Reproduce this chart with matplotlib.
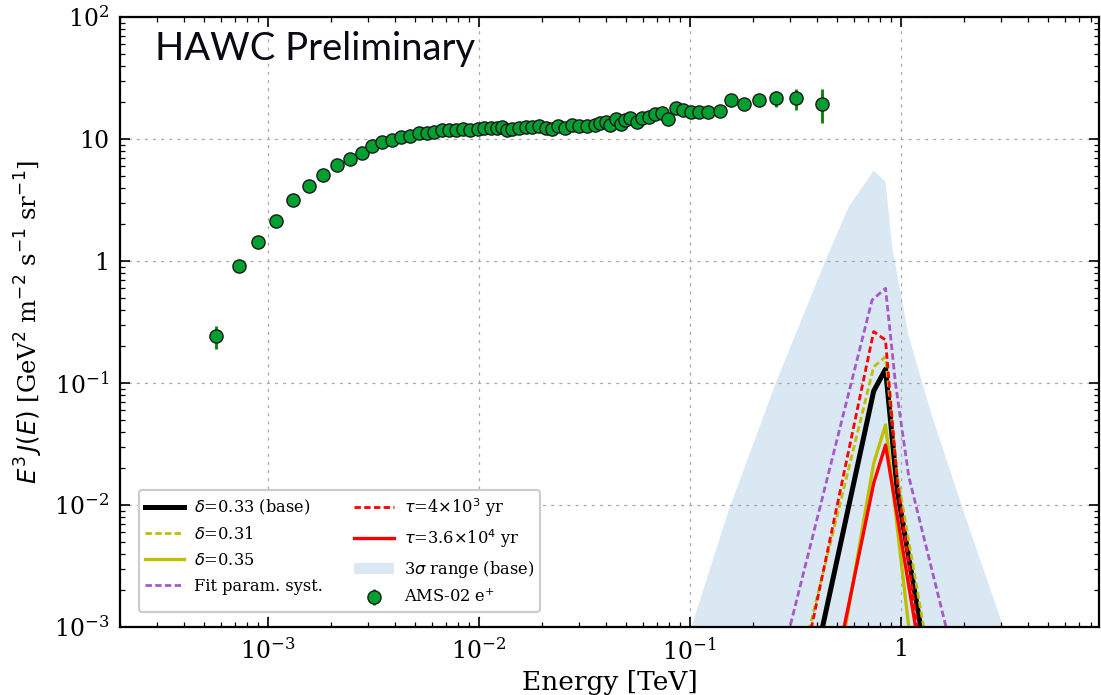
import numpy as np
import matplotlib
matplotlib.use("Agg")
import matplotlib.pyplot as plt

plt.rcParams['font.family'] = 'DejaVu Serif'
plt.rcParams['mathtext.fontset'] = 'dejavusans'

# AMS-02 positron points, E in TeV, E^3 J(E) in GeV^2 m^-2 s^-1 sr^-1
ams_E = [5.69e-4, 7.31e-4, 9.03e-4, 1.10e-3, 1.32e-3, 1.57e-3, 1.83e-3, 2.14e-3,
         2.45e-3, 2.80e-3, 3.13e-3, 3.49e-3, 3.87e-3, 4.27e-3, 4.71e-3, 5.20e-3,
         5.69e-3, 6.18e-3, 6.70e-3, 7.23e-3, 7.83e-3, 8.45e-3, 9.16e-3, 9.89e-3,
         1.06e-2, 1.14e-2, 1.22e-2, 1.29e-2, 1.37e-2, 1.44e-2, 1.55e-2, 1.67e-2,
         1.80e-2, 1.93e-2, 2.08e-2, 2.22e-2, 2.38e-2, 2.58e-2, 2.78e-2, 2.99e-2,
         3.27e-2, 3.58e-2, 3.78e-2, 4.00e-2, 4.22e-2, 4.46e-2, 4.71e-2, 4.97e-2,
         5.25e-2, 5.64e-2, 5.96e-2, 6.41e-2, 6.85e-2, 7.37e-2, 7.92e-2, 8.59e-2,
         9.30e-2, 0.102, 0.111, 0.122, 0.139, 0.157, 0.181, 0.213, 0.258, 0.321, 0.423]
ams_F = [0.243, 0.910, 1.44, 2.13, 3.16, 4.14, 5.03, 6.12,
         6.90, 7.68, 8.81, 9.40, 9.87, 10.3, 10.6, 11.1,
         11.3, 11.5, 11.8, 11.8, 11.9, 12.0, 11.9, 12.1,
         12.2, 12.2, 12.4, 12.6, 11.9, 12.0, 12.4, 12.5,
         12.6, 12.8, 12.4, 12.1, 12.8, 12.2, 13.0, 12.8,
         12.8, 13.0, 13.5, 13.7, 13.0, 14.6, 13.4, 14.3,
         14.8, 13.9, 14.8, 15.1, 16.0, 16.3, 14.7, 18.1,
         17.3, 16.8, 16.6, 16.8, 17.1, 20.9, 19.5, 20.9, 21.6, 21.6, 19.5]
ams_err = [0.052, 0.03, 0.04, 0.05, 0.06, 0.07, 0.08, 0.09,
           0.1, 0.1, 0.1, 0.1, 0.1, 0.1, 0.1, 0.1,
           0.1, 0.1, 0.1, 0.1, 0.1, 0.1, 0.1, 0.1,
           0.1, 0.1, 0.1, 0.1, 0.1, 0.1, 0.1, 0.1,
           0.1, 0.1, 0.1, 0.1, 0.2, 0.2, 0.2, 0.2,
           0.2, 0.2, 0.3, 0.3, 0.3, 0.3, 0.3, 0.3,
           0.3, 0.3, 0.4, 0.4, 0.4, 0.5, 0.5, 0.5,
           0.6, 0.6, 0.7, 0.8, 0.9, 1.1, 1.3, 1.7, 3.3, 4.3, 6.0]

# 3 sigma band (upper edge; lower edge sits below the plotted range)
band_E = [0.0891, 0.1028, 0.1535, 0.256, 0.442, 0.569, 0.746, 0.849,
          0.912, 0.982, 1.094, 1.413, 2.03, 3.03, 3.31]
band_hi = [5.0e-4, 1.04e-3, 9.1e-3, 0.0995, 1.02, 2.79, 5.50, 4.47,
           1.31, 0.656, 0.240, 0.053, 8.0e-3, 1.07e-3, 6.3e-4]
band_lo = [1e-5] * len(band_E)

# model spectra
base_E = [0.355, 0.746, 0.849, 0.964, 1.35]
base_F = [2.3e-4, 0.086, 0.130, 0.0133, 4.5e-4]
d31_E = [0.316, 0.746, 0.849, 0.964, 1.38]
d31_F = [3.2e-4, 0.136, 0.164, 0.0178, 5.0e-4]
d35_E = [0.501, 0.746, 0.849, 1.148]
d35_F = [4.1e-4, 0.022, 0.0453, 4.8e-4]
fit_E = [0.251, 0.733, 0.849, 0.946, 1.094, 1.82]
fit_F = [3.0e-4, 0.479, 0.597, 0.0995, 0.0171, 4.9e-4]
t4e3_E = [0.331, 0.746, 0.849, 0.964, 1.29]
t4e3_F = [3.3e-4, 0.264, 0.225, 0.0158, 4.1e-4]
t36e3_E = [0.490, 0.746, 0.849, 1.259]
t36e3_F = [4.4e-4, 0.0151, 0.031, 5.0e-4]

dash = (0, (2.3, 1.2))

fig = plt.figure(figsize=(11.01, 6.95), dpi=100)
ax = fig.add_axes([0.109, 0.0978, 0.889, 0.8777])

h_band = ax.fill_between(band_E, band_lo, band_hi, color='#1f77b4', alpha=0.17,
                         lw=0, label=r'3$\sigma$ range (base)')
h_base, = ax.plot(base_E, base_F, color='k', lw=3.6, label=r'$\delta$=0.33 (base)')
h_d31, = ax.plot(d31_E, d31_F, color='#bcc000', lw=2, ls=dash, label=r'$\delta$=0.31')
h_d35, = ax.plot(d35_E, d35_F, color='#bcc000', lw=2.4, label=r'$\delta$=0.35')
h_fit, = ax.plot(fit_E, fit_F, color='#a65ac8', lw=2, ls=dash, label='Fit param. syst.')
h_t1, = ax.plot(t4e3_E, t4e3_F, color='r', lw=2, ls=dash,
                label=r'$\tau$=4$\times$10$^3$ yr')
h_t2, = ax.plot(t36e3_E, t36e3_F, color='r', lw=2.4,
                label=r'$\tau$=3.6$\times$10$^4$ yr')
h_ams = ax.errorbar(ams_E, ams_F, yerr=ams_err, fmt='o', ms=9.5, mfc='#00a030',
                    mec='#1a1a1a', mew=1.0, ecolor='#008000', elinewidth=2,
                    label=r'AMS-02 e$^{+}$', zorder=5)

ax.set_xscale('log')
ax.set_yscale('log')
ax.set_xlim(2e-4, 8.7)
ax.set_ylim(1e-3, 1e2)

ax.set_xticks([1e-3, 1e-2, 1e-1, 1])
ax.set_xticklabels([r'$\mathdefault{10^{-3}}$', r'$\mathdefault{10^{-2}}$',
                    r'$\mathdefault{10^{-1}}$', '1'])
ax.set_yticks([1e-3, 1e-2, 1e-1, 1, 10, 100])
ax.set_yticklabels([r'$\mathdefault{10^{-3}}$', r'$\mathdefault{10^{-2}}$',
                    r'$\mathdefault{10^{-1}}$', '1', '10', r'$\mathdefault{10^{2}}$'])

ax.tick_params(which='both', direction='in', top=True, right=True)
ax.tick_params(which='major', length=7, width=1.2, labelsize=17, pad=8)
ax.tick_params(which='minor', length=3.5, width=0.9)
for sp in ax.spines.values():
    sp.set_linewidth(1.6)

ax.grid(True, which='major', color='#aaaaaa', ls=(0, (2.5, 4)), lw=0.9)

ax.set_xlabel('Energy [TeV]', fontsize=19)
ax.set_ylabel(r'$E^3\,J(E)$ [GeV$^2$ m$^{-2}$ s$^{-1}$ sr$^{-1}$]', fontsize=17.5,
              labelpad=6)

ax.text(0.036, 0.929, 'HAWC Preliminary', transform=ax.transAxes,
        fontsize=27.5, family='Lato', color='#0a0a14')

handles = [h_base, h_d31, h_d35, h_fit, h_t1, h_t2, h_band, h_ams]
leg = ax.legend(handles=handles, loc='lower left', ncol=2, fontsize=11.7,
                handlelength=2.45, handletextpad=0.6, columnspacing=1.9,
                labelspacing=0.55, borderpad=0.35, borderaxespad=0,
                bbox_to_anchor=(0.0194, 0.0246), framealpha=1,
                edgecolor='#cccccc', fancybox=True)
leg.get_frame().set_linewidth(1.5)

fig.savefig('out.png', dpi=100)
